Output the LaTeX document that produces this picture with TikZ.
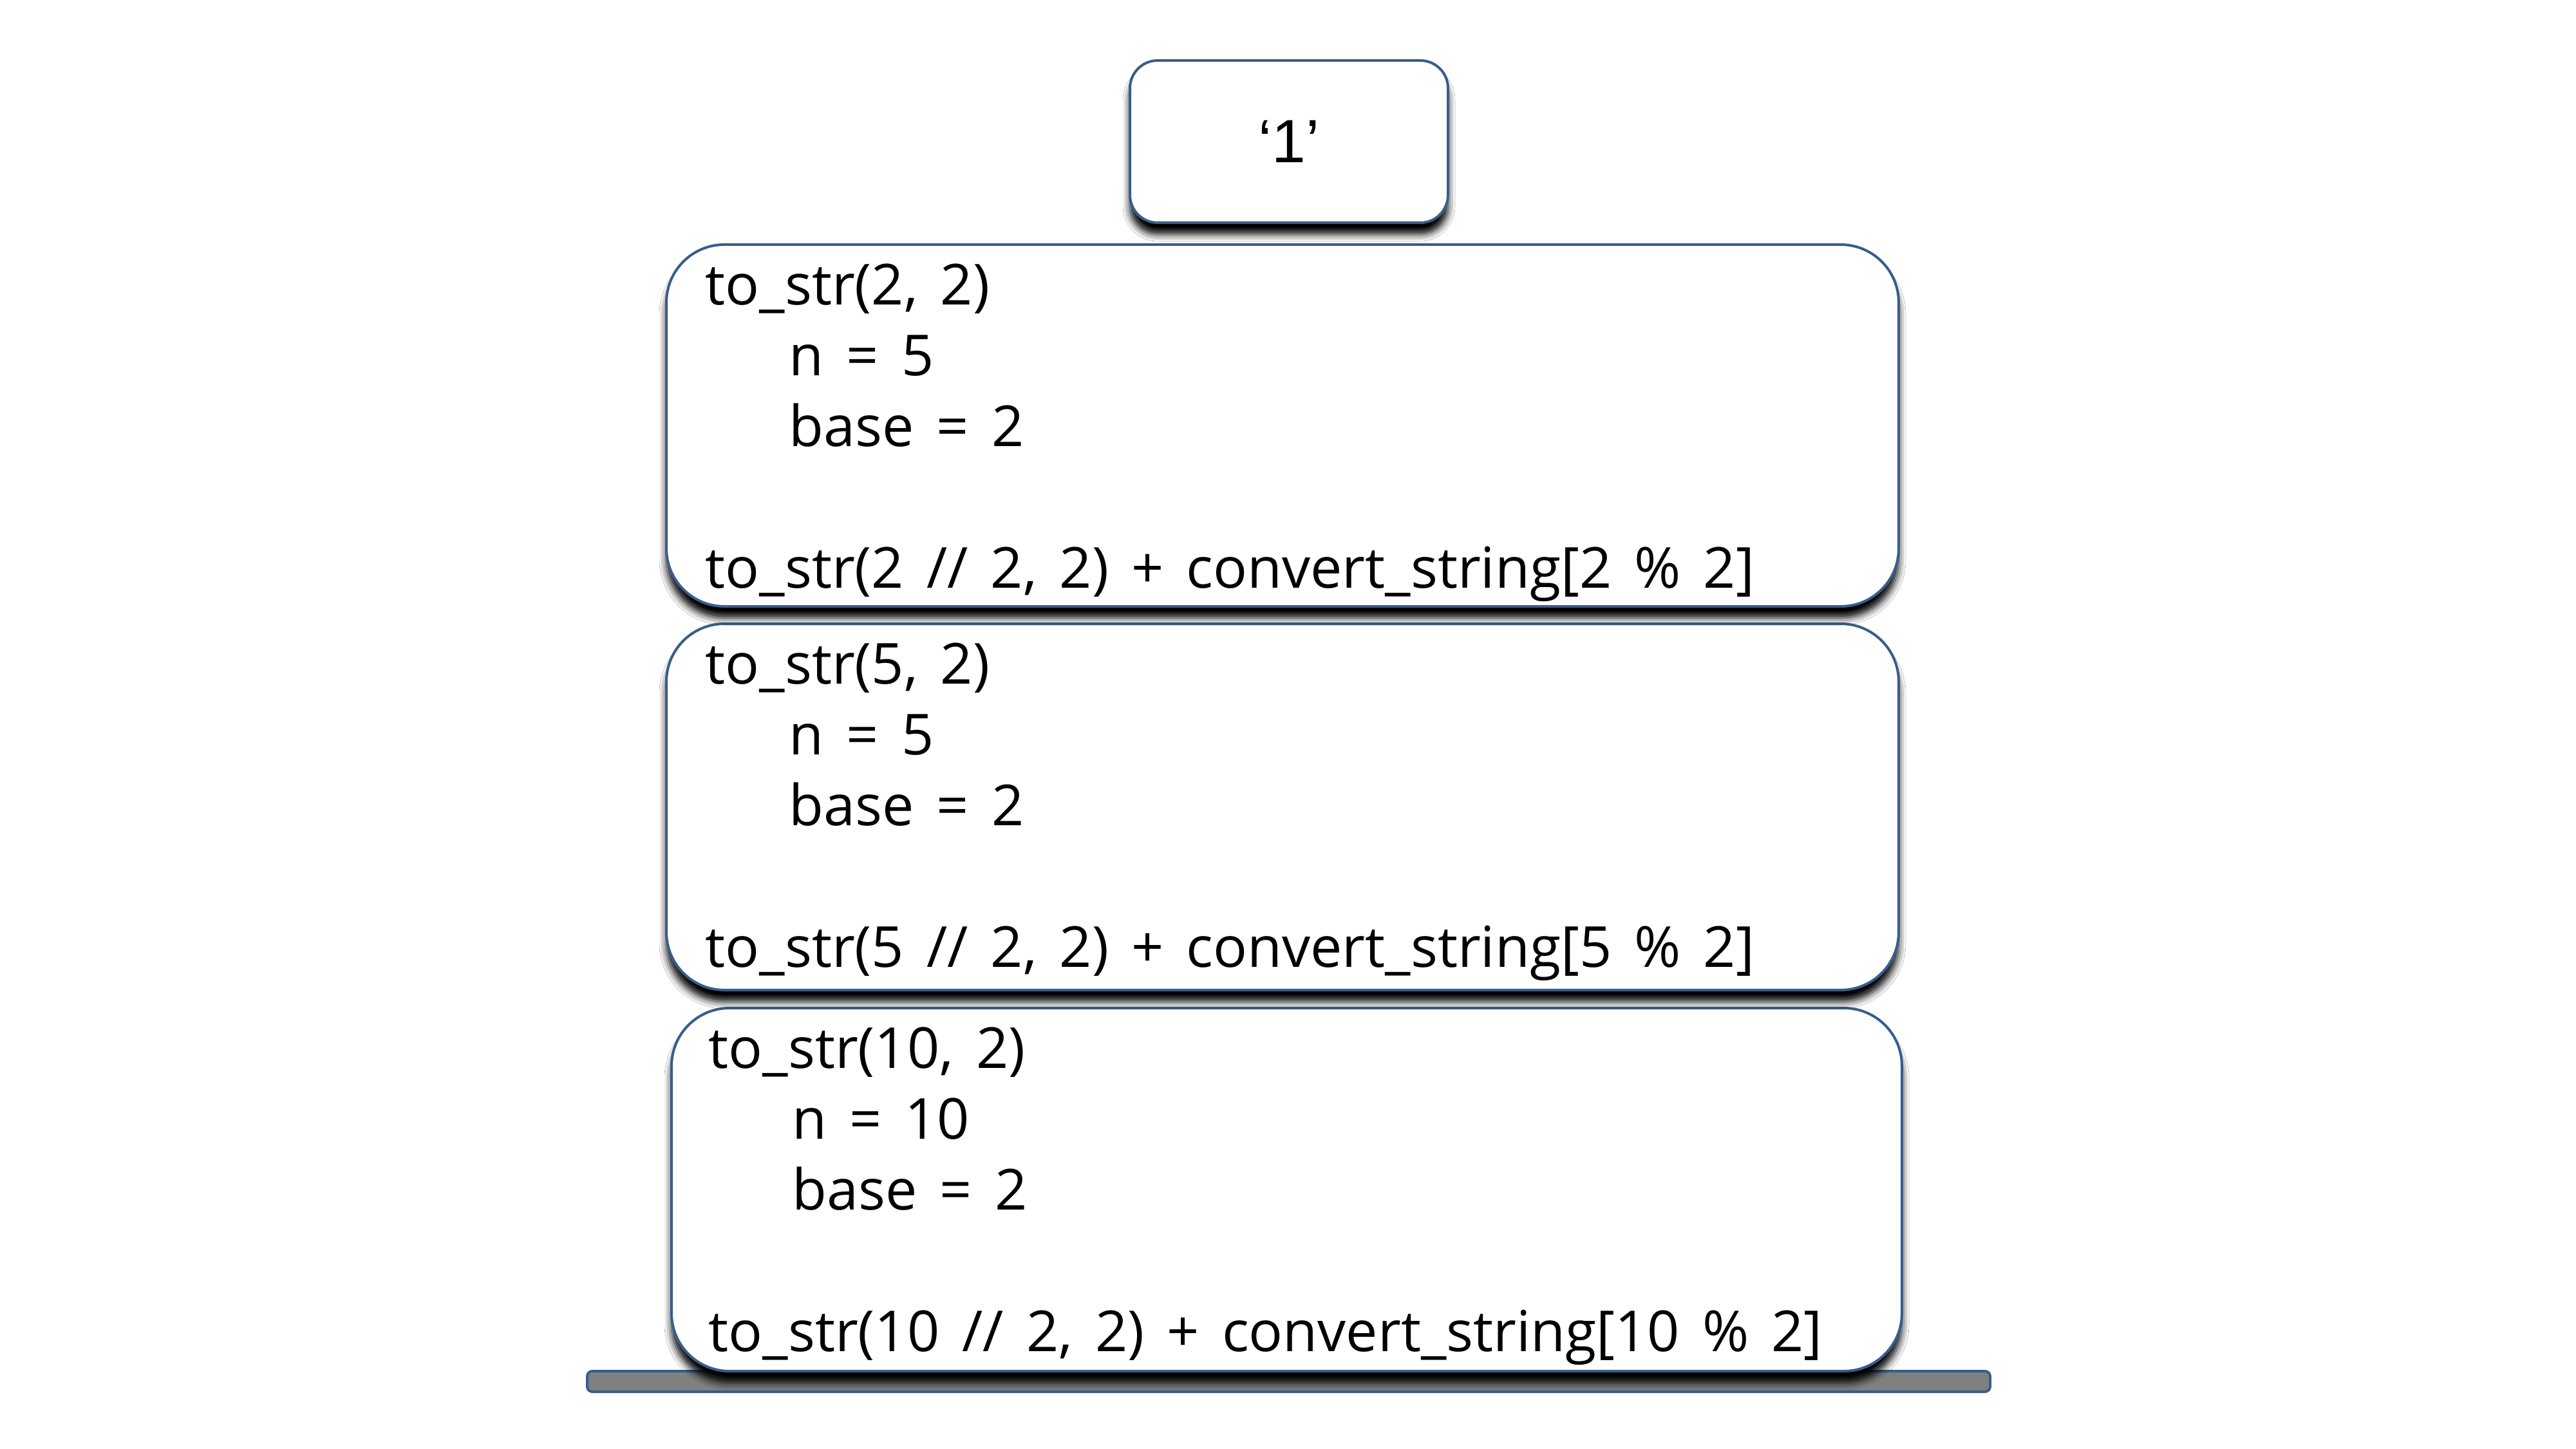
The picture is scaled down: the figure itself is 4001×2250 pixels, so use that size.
\documentclass[tikz,border=0pt]{standalone}
\usepackage{fontspec}
\setmainfont{Open Sans}
\newfontfamily\arialf{Liberation Sans}
\usetikzlibrary{shadows.blur}
\definecolor{edge}{HTML}{385D8A}
\definecolor{barfill}{HTML}{808080}
\newcommand\widespaces{\spaceskip=10pt\relax}
\tikzset{
  frame/.style={draw=edge, line width=0.4mm, fill=white, rounded corners=9mm, anchor=north west, inner sep=0pt,
    blur shadow={shadow xshift=0mm, shadow yshift=-1.8mm, shadow blur radius=1.1mm, shadow opacity=100}},
  codeline/.style={anchor=base west, inner sep=0pt, font=\fontsize{25}{30}\selectfont, execute at begin node=\widespaces},
}
\begin{document}
\begin{tikzpicture}[x=0.1mm,y=-0.1mm]
\useasboundingbox[fill=white] (0,0) rectangle (4001,2250);
% base bar
\node[draw=edge, line width=0.4mm, fill=barfill, rounded corners=0.8mm, anchor=north west, inner sep=0pt,
  minimum width=217.9mm, minimum height=3.2mm] (bar) at (910,2128) {};
% frames
\node[frame, minimum width=191.1mm, minimum height=56.4mm] (b3) at (1041,1564) {};
\node[frame, minimum width=191.4mm, minimum height=56.9mm] (b2) at (1033,967) {};
\node[frame, minimum width=191.4mm, minimum height=56.2mm] (b1) at (1033,378) {};
\node[frame, rounded corners=4.3mm, minimum width=49.4mm, minimum height=25.2mm, font=\arialf\fontsize{27}{32}\selectfont] (top) at (1753,92) {‘1’};
% box 1 text
\node[codeline] (b1l1) at (1095,473) {to\_str(2, 2)};
\node[codeline] (b1l2) at (1225,583) {n = 5};
\node[codeline] (b1l3) at (1225,693) {base = 2};
\node[codeline] (b1l4) at (1095,913) {to\_str(2 // 2, 2) + convert\_string[2 \% 2]};
% box 2 text
\node[codeline] (b2l1) at (1095,1062) {to\_str(5, 2)};
\node[codeline] (b2l2) at (1225,1172) {n = 5};
\node[codeline] (b2l3) at (1225,1282) {base = 2};
\node[codeline] (b2l4) at (1095,1502) {to\_str(5 // 2, 2) + convert\_string[5 \% 2]};
% box 3 text
\node[codeline] (b3l1) at (1100,1659) {to\_str(10, 2)};
\node[codeline] (b3l2) at (1230,1769) {n = 10};
\node[codeline] (b3l3) at (1230,1879) {base = 2};
\node[codeline] (b3l4) at (1100,2099) {to\_str(10 // 2, 2) + convert\_string[10 \% 2]};
\end{tikzpicture}
\end{document}
